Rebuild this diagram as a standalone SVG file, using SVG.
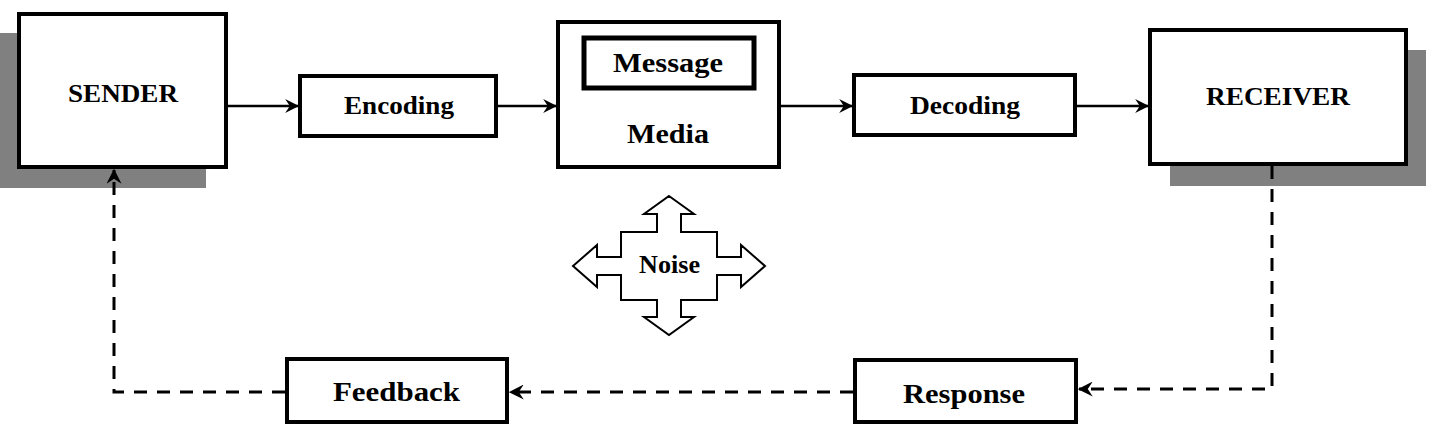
<svg xmlns="http://www.w3.org/2000/svg" width="1431" height="426" viewBox="0 0 1431 426">
<style>
.box{fill:#fff;stroke:#000;stroke-width:4}
.shadow{fill:#808080}
.t{font-family:"Liberation Serif","Times New Roman",serif;font-weight:bold;fill:#000;text-anchor:start}
.c{fill:none;stroke:#000;stroke-width:2.5}
.d{fill:none;stroke:#000;stroke-width:3;stroke-dasharray:13 10}
</style>
<defs>
<marker id="ah" viewBox="0 0 12 12" refX="11" refY="6" markerWidth="14" markerHeight="14" markerUnits="userSpaceOnUse" orient="auto">
<path d="M0,0 L12,6 L0,12 L4,6 z" fill="#000"/>
</marker>
<marker id="ahd" viewBox="0 0 12 12" refX="11" refY="6" markerWidth="15" markerHeight="15" markerUnits="userSpaceOnUse" orient="auto">
<path d="M0,0 L12,6 L0,12 L4,6 z" fill="#000"/>
</marker>
</defs>
<rect width="1431" height="426" fill="#fff"/>
<g id="sender">
<rect class="shadow" x="0" y="33" width="206" height="155"/>
<rect class="box" x="19" y="14" width="207" height="153"/>
<text class="t" x="68" y="102" font-size="26" textLength="110" lengthAdjust="spacingAndGlyphs">SENDER</text>
</g>
<g id="encoding">
<rect class="box" x="300" y="76" width="196" height="60"/>
<text class="t" x="344" y="114" font-size="26" textLength="110" lengthAdjust="spacingAndGlyphs">Encoding</text>
</g>
<g id="media">
<rect class="box" x="558" y="22" width="221" height="145"/>
<rect class="box" x="584" y="38" width="170" height="50" style="stroke-width:5"/>
<text class="t" x="613" y="72" font-size="28" textLength="110" lengthAdjust="spacingAndGlyphs">Message</text>
<text class="t" x="627" y="143" font-size="28" textLength="82" lengthAdjust="spacingAndGlyphs">Media</text>
</g>
<g id="decoding">
<rect class="box" x="854" y="75" width="221" height="60"/>
<text class="t" x="910" y="114" font-size="26" textLength="110" lengthAdjust="spacingAndGlyphs">Decoding</text>
</g>
<g id="receiver">
<rect class="shadow" x="1170" y="50" width="256" height="136"/>
<rect class="box" x="1150" y="30" width="256" height="134"/>
<text class="t" x="1206" y="105" font-size="26" textLength="144" lengthAdjust="spacingAndGlyphs">RECEIVER</text>
</g>
<g id="noise">
<path d="M669,196 L694,214 L681,214 L681,232 L717,232 L717,257 L741,257 L741,245 L765,266 L741,287 L741,275 L717,275 L717,300 L681,300 L681,317 L694,317 L669,335 L644,317 L657,317 L657,300 L621,300 L621,275 L597,275 L597,287 L573,266 L597,245 L597,257 L621,257 L621,232 L657,232 L657,214 L644,214 Z" fill="#fff" stroke="#000" stroke-width="2"/>
<text class="t" x="639" y="273" font-size="25" textLength="61" lengthAdjust="spacingAndGlyphs">Noise</text>
</g>
<g id="feedback">
<rect class="box" x="287" y="359" width="220" height="63"/>
<text class="t" x="333" y="401" font-size="28" textLength="127" lengthAdjust="spacingAndGlyphs">Feedback</text>
</g>
<g id="response">
<rect class="box" x="855" y="360" width="221" height="62"/>
<text class="t" x="903" y="403" font-size="28" textLength="122" lengthAdjust="spacingAndGlyphs">Response</text>
</g>
<g id="connectors">
<line class="c" x1="228" y1="106" x2="298" y2="106" marker-end="url(#ah)"/>
<line class="c" x1="498" y1="106" x2="556" y2="106" marker-end="url(#ah)"/>
<line class="c" x1="781" y1="106" x2="852" y2="106" marker-end="url(#ah)"/>
<line class="c" x1="1077" y1="106" x2="1148" y2="106" marker-end="url(#ah)"/>
<polyline class="d" points="1272,166 1272,389 1079,389" marker-end="url(#ahd)"/>
<line class="d" x1="853" y1="392" x2="510" y2="392" marker-end="url(#ahd)"/>
<polyline class="d" points="285,392 114,392 114,170" marker-end="url(#ahd)"/>
</g>
</svg>
